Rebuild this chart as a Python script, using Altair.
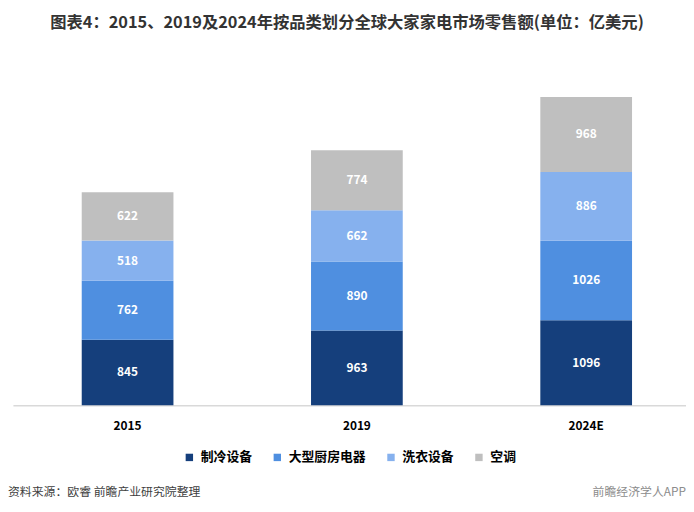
import altair as alt
import pandas as pd

years = ["2015", "2019", "2024E"]
categories = ["制冷设备", "大型厨房电器", "洗衣设备", "空调"]
colors = ["#153F7C", "#4F8FE0", "#86B1EE", "#BFBFBF"]
refrigeration = [845, 963, 1096]
kitchen = [762, 890, 1026]
laundry = [518, 662, 886]
aircon = [622, 774, 968]

title = "图表4：2015、2019及2024年按品类划分全球大家家电市场零售额(单位：亿美元)"
source = "资料来源：欧睿 前瞻产业研究院整理"
brand = "前瞻经济学人APP"

series = [refrigeration, kitchen, laundry, aircon]
rows = []
for ci, (cat, vals) in enumerate(zip(categories, series)):
    for yi, yr in enumerate(years):
        rows.append({"year": yr, "cat": cat, "order": ci, "value": vals[yi]})
df = pd.DataFrame(rows)

FONT = "Noto Sans CJK SC"
W, H = 686, 350

base = alt.Chart(df).transform_stack(
    stack="value", groupby=["year"], as_=["y0", "y1"],
    sort=[alt.SortField("order", order="ascending")]
).transform_calculate(mid="(datum.y0 + datum.y1) / 2")

x = alt.X("year:N", sort=years, title=None,
          scale=alt.Scale(paddingInner=0.6, paddingOuter=0.3, range=[5, 701]),
          axis=alt.Axis(labelAngle=0, labelFont=FONT, labelFontSize=12,
                        labelFontWeight="bold", labelColor="#000000",
                        labelPadding=15, ticks=False, domainColor="#D9D9D9",
                        domainWidth=1.5))
yscale = alt.Scale(domain=[0, 4460], nice=False)

bars = base.mark_bar().encode(
    x=x,
    y=alt.Y("y0:Q", scale=yscale, axis=None),
    y2="y1:Q",
    color=alt.Color("cat:N", sort=categories,
                    scale=alt.Scale(domain=categories, range=colors),
                    legend=alt.Legend(orient="none", direction="horizontal",
                                      legendX=177, legendY=396, title=None,
                                      symbolType="square", symbolSize=56,
                                      symbolStrokeWidth=0,
                                      labelFont=FONT, labelFontSize=13,
                                      labelFontWeight="bold", labelColor="#000000",
                                      columnPadding=18, labelOffset=5, padding=0)),
)

labels = base.mark_text(font=FONT, fontSize=12, fontWeight="bold",
                        color="white").encode(
    x=alt.X("year:N", sort=years),
    y=alt.Y("mid:Q", scale=yscale),
    text=alt.Text("value:Q"),
)

foot_df = pd.DataFrame({"t": [source]})
foot = alt.Chart(foot_df).mark_text(font=FONT, fontSize=12, color="#404040",
                                    align="left", baseline="middle").encode(
    x=alt.value(0), y=alt.value(438), text="t:N")

brand_df = pd.DataFrame({"t": [brand]})
brand_txt = alt.Chart(brand_df).mark_text(font=FONT, fontSize=12, color="#8C8C8C",
                                          align="right", baseline="middle").encode(
    x=alt.value(686), y=alt.value(438), text="t:N")

chart = alt.layer(bars, labels, foot, brand_txt).properties(
    width=W, height=H,
    title=alt.TitleParams(title, font=FONT, fontSize=16.5, fontWeight="bold",
                          color="#333333", anchor="middle", offset=28),
    autosize=alt.AutoSizeParams(type="none"),
    padding={"left": 0, "top": 49, "right": 0, "bottom": 105},
).configure_view(stroke=None)

chart.save("out.html", embed_options={"renderer": "svg", "actions": False})
